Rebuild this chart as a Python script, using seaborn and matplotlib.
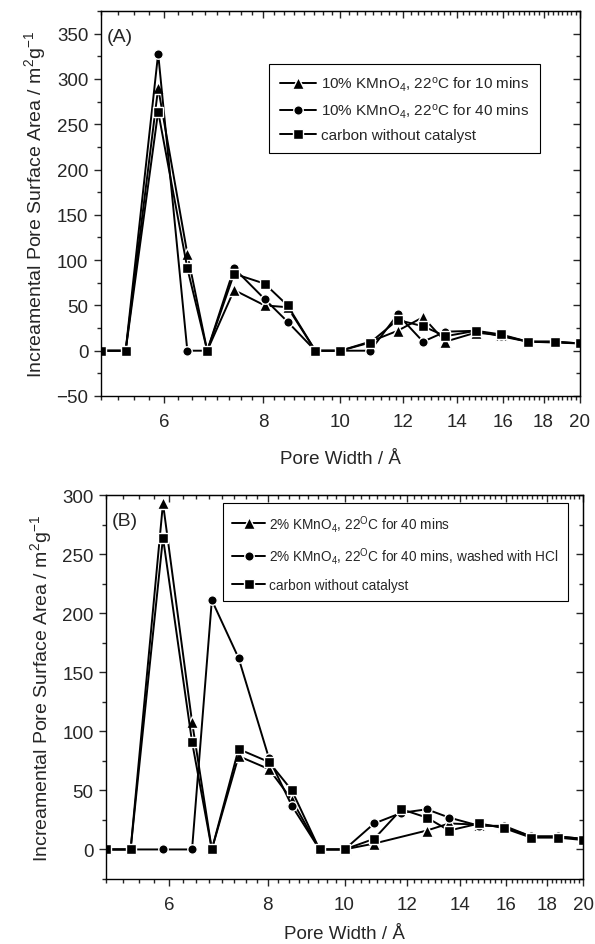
import numpy as np
import pandas as pd
import matplotlib
matplotlib.use('Agg')
import matplotlib.pyplot as plt
import seaborn as sns
from matplotlib.ticker import MultipleLocator, FixedLocator, FixedFormatter, NullFormatter

# pore widths (Å) shared by all series
pore_width = [5.0, 5.37, 5.9, 6.42, 6.8, 7.35, 8.03, 8.58, 9.3, 10.0,
              10.9, 11.8, 12.7, 13.55, 14.8, 15.9, 17.2, 18.6, 20.0]

# panel (A)
kmno4_10_10min = [0, 0, 290, 107, 0, 67, 50, 48, 0, 0, 10, 22, 37, 10, 20, 17, 10, 10, 8]
kmno4_10_40min = [0, 0, 328, 0, 0, 91, 57, 32, 0, 0, 0, 40, 10, 21, 22, 16, 10, 9, 8]
carbon_no_cat = [0, 0, 264, 91, 0, 85, 74, 50, 0, 0, 9, 34, 27, 16, 22, 18, 10, 10, 8]

# panel (B) - the 2% 40 min series has no point at 11.8 Å
width_b_tri = [5.0, 5.37, 5.9, 6.42, 6.8, 7.35, 8.03, 8.58, 9.3, 10.0,
               10.9, 12.7, 13.55, 14.8, 15.9, 17.2, 18.6, 20.0]
kmno4_2_40min = [0, 0, 293, 108, 0, 79, 68, 42, 0, 0, 5, 16, 22, 21, 19, 11, 11, 9]
kmno4_2_40min_hcl = [0, 0, 0, 0, 211, 162, 77, 37, 0, 0, 22, 31, 34, 27, 20, 20, 11, 11, 9]

labels_a = [r'10% KMnO$\mathregular{_4}$, 22$\mathregular{^o}$C for 10 mins',
            r'10% KMnO$\mathregular{_4}$, 22$\mathregular{^o}$C for 40 mins',
            'carbon without catalyst']
labels_b = [r'2% KMnO$\mathregular{_4}$, 22$\mathregular{^O}$C for 40 mins',
            r'2% KMnO$\mathregular{_4}$, 22$\mathregular{^O}$C for 40 mins, washed with HCl',
            'carbon without catalyst']
x_ticks = [6, 8, 10, 12, 14, 16, 18, 20]

sns.set_style('ticks')
plt.rcParams['font.family'] = ['Liberation Sans', 'DejaVu Sans']
plt.rcParams['mathtext.default'] = 'regular'


def long_form(xs, ys, labels):
    frames = []
    for x, y, lab in zip(xs, ys, labels):
        frames.append(pd.DataFrame({'width': x, 'area': y, 'series': lab}))
    return pd.concat(frames, ignore_index=True)


df_a = long_form([pore_width] * 3, [kmno4_10_10min, kmno4_10_40min, carbon_no_cat], labels_a)
df_b = long_form([width_b_tri, pore_width, pore_width],
                 [kmno4_2_40min, kmno4_2_40min_hcl, carbon_no_cat], labels_b)

fig = plt.figure(figsize=(5.95, 9.45), dpi=100)
ax1 = fig.add_axes([0.1697, 0.5799, 0.805, 0.4074])
ax2 = fig.add_axes([0.1782, 0.0688, 0.8017, 0.4063])


def draw_panel(ax, df, labels, ylim, tag, leg_anchor, leg_size, leg_space, xpad):
    sns.lineplot(data=df, x='width', y='area', hue='series', style='series',
                 hue_order=labels, style_order=labels,
                 palette=['black'] * 3, markers=['^', 'o', 's'], dashes=False,
                 markersize=7, markeredgewidth=1.0, markeredgecolor='white',
                 linewidth=1.4, errorbar=None, legend=False, ax=ax)
    # triangles look a touch bigger than circles/squares in the original
    for line, ms in zip(ax.lines[:3], [8, 6.8, 6.5]):
        line.set_markersize(ms)

    ax.set_xscale('log')
    ax.set_xlim(5.0, 20)
    ax.set_ylim(*ylim)

    ax.xaxis.set_major_locator(FixedLocator(x_ticks))
    ax.xaxis.set_major_formatter(FixedFormatter([str(t) for t in x_ticks]))
    ax.xaxis.set_minor_locator(MultipleLocator(0.25))
    ax.xaxis.set_minor_formatter(NullFormatter())
    ax.yaxis.set_major_locator(MultipleLocator(50))
    ax.yaxis.set_minor_locator(MultipleLocator(25))
    ax.tick_params(which='major', direction='out', length=5, width=1, labelsize=13.5)
    ax.tick_params(axis='x', which='major', pad=7)
    ax.tick_params(axis='y', which='major', pad=4)
    ax.tick_params(which='minor', direction='out', length=3, width=1)

    # mirrored ticks pointing inward on top and right
    top = ax.secondary_xaxis('top')
    top.xaxis.set_major_locator(FixedLocator(x_ticks))
    top.xaxis.set_minor_locator(MultipleLocator(0.25))
    top.xaxis.set_minor_formatter(NullFormatter())
    top.tick_params(which='major', direction='in', length=5, width=1, labeltop=False)
    top.tick_params(which='minor', direction='in', length=3, width=1)
    right = ax.secondary_yaxis('right')
    right.yaxis.set_major_locator(MultipleLocator(50))
    right.yaxis.set_minor_locator(MultipleLocator(25))
    right.tick_params(which='major', direction='in', length=5, width=1, labelright=False)
    right.tick_params(which='minor', direction='in', length=3, width=1)

    for sp in ax.spines.values():
        sp.set_linewidth(1.0)
        sp.set_color('black')

    ax.set_xlabel('Pore Width / Å', fontsize=13.5, labelpad=xpad)
    ax.set_ylabel(r'Increamental Pore Surface Area / m$^2$g$^{-1}$', fontsize=14, labelpad=6)
    ax.text(0.013, 0.955, tag, transform=ax.transAxes, fontsize=14, va='top', ha='left')

    leg = ax.legend(ax.lines[:3], labels, loc='upper left', bbox_to_anchor=leg_anchor,
                    borderaxespad=0, frameon=True, fancybox=False, framealpha=1,
                    edgecolor='black', fontsize=leg_size, handlelength=2.4,
                    handletextpad=0.3, labelspacing=leg_space, borderpad=0.7)
    leg.get_frame().set_linewidth(0.8)


draw_panel(ax1, df_a, labels_a, (-50, 375), '(A)', (0.351, 0.862), 11, 0.55, 15)
draw_panel(ax2, df_b, labels_b, (-25, 300), '(B)', (0.245, 0.979), 9.8, 0.85, 9)

fig.savefig('out.png', dpi=100)
